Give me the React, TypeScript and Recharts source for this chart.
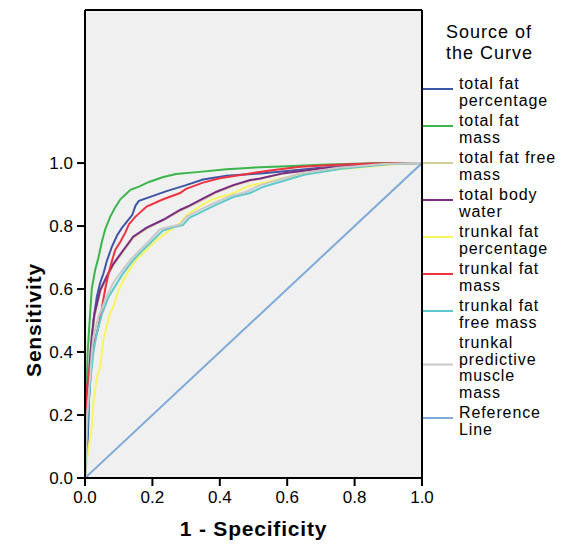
import React from "react";
import {
  LineChart,
  Line,
  XAxis,
  YAxis,
  CartesianGrid,
  ReferenceLine,
  Customized,
} from "recharts";

type Pt = { x: number; y: number };
const pts = (a: number[][]): Pt[] => a.map(([x, y]) => ({ x, y }));

// ROC curves (1 - specificity, sensitivity)
const totalFatPercentage = pts([
  [0, 0], [0.003, 0.05], [0.008, 0.12], [0.012, 0.25], [0.015, 0.3], [0.018, 0.35],
  [0.02, 0.42], [0.025, 0.5], [0.035, 0.575], [0.045, 0.62], [0.055, 0.65], [0.065, 0.69],
  [0.08, 0.735], [0.095, 0.77], [0.11, 0.795], [0.125, 0.815], [0.14, 0.835], [0.15, 0.865],
  [0.16, 0.88], [0.2, 0.895], [0.24, 0.91], [0.3, 0.93], [0.35, 0.948], [0.42, 0.96],
  [0.52, 0.967], [0.6, 0.975], [0.7, 0.985], [0.8, 0.993], [0.9, 0.998], [1, 1],
]);
const totalFatMass = pts([
  [0, 0], [0.003, 0.12], [0.005, 0.3], [0.008, 0.4], [0.012, 0.47], [0.02, 0.6],
  [0.03, 0.66], [0.04, 0.7], [0.05, 0.75], [0.06, 0.79], [0.075, 0.83], [0.09, 0.86],
  [0.105, 0.885], [0.12, 0.9], [0.135, 0.915], [0.16, 0.925], [0.19, 0.94], [0.23, 0.955],
  [0.27, 0.965], [0.34, 0.972], [0.42, 0.98], [0.52, 0.987], [0.6, 0.99], [0.7, 0.995],
  [0.8, 0.998], [0.87, 1], [1, 1],
]);
const totalFatFreeMass = pts([
  [0, 0], [0.003, 0.1], [0.006, 0.24], [0.01, 0.3], [0.015, 0.37], [0.02, 0.44],
  [0.028, 0.51], [0.045, 0.59], [0.064, 0.635], [0.084, 0.675], [0.114, 0.72],
  [0.143, 0.762], [0.183, 0.792], [0.232, 0.818], [0.282, 0.848], [0.31, 0.862],
  [0.351, 0.884], [0.39, 0.906], [0.44, 0.928], [0.49, 0.944], [0.52, 0.95],
  [0.59, 0.967], [0.7, 0.982], [0.8, 0.992], [0.9, 0.998], [1, 1],
]);
const totalBodyWater = pts([
  [0, 0], [0.003, 0.1], [0.006, 0.25], [0.01, 0.3], [0.015, 0.38], [0.02, 0.45],
  [0.028, 0.52], [0.045, 0.597], [0.064, 0.639], [0.084, 0.68], [0.114, 0.724],
  [0.143, 0.766], [0.183, 0.795], [0.232, 0.82], [0.282, 0.851], [0.31, 0.865],
  [0.351, 0.888], [0.39, 0.909], [0.44, 0.93], [0.49, 0.946], [0.52, 0.951],
  [0.59, 0.968], [0.7, 0.983], [0.8, 0.992], [0.9, 0.998], [1, 1],
]);
const trunkalFatPercentage = pts([
  [0, 0], [0.005, 0.04], [0.01, 0.1], [0.013, 0.11], [0.02, 0.163], [0.025, 0.237],
  [0.035, 0.32], [0.045, 0.353], [0.054, 0.438], [0.064, 0.48], [0.074, 0.523],
  [0.084, 0.544], [0.09, 0.565], [0.104, 0.607], [0.12, 0.64], [0.134, 0.665],
  [0.153, 0.695], [0.183, 0.725], [0.213, 0.756], [0.252, 0.787], [0.282, 0.81],
  [0.302, 0.835], [0.351, 0.87], [0.381, 0.886], [0.44, 0.904], [0.48, 0.925],
  [0.58, 0.95], [0.7, 0.975], [0.837, 0.988], [0.92, 0.996], [1, 1],
]);
const trunkalFatMass = pts([
  [0, 0], [0.002, 0.1], [0.004, 0.27], [0.008, 0.31], [0.015, 0.35], [0.022, 0.4],
  [0.03, 0.44], [0.04, 0.48], [0.05, 0.54], [0.06, 0.6], [0.07, 0.65], [0.08, 0.69],
  [0.09, 0.725], [0.105, 0.75], [0.12, 0.78], [0.13, 0.805], [0.15, 0.83], [0.183, 0.862],
  [0.232, 0.885], [0.282, 0.905], [0.3, 0.918], [0.35, 0.938], [0.4, 0.952],
  [0.49, 0.967], [0.56, 0.978], [0.64, 0.988], [0.75, 0.995], [0.85, 0.999], [1, 1],
]);
const trunkalFatFreeMass = pts([
  [0, 0], [0.004, 0.08], [0.008, 0.2], [0.015, 0.3], [0.025, 0.4], [0.035, 0.46],
  [0.05, 0.52], [0.07, 0.575], [0.09, 0.61], [0.11, 0.645], [0.14, 0.688],
  [0.17, 0.722], [0.19, 0.742], [0.23, 0.785], [0.26, 0.796], [0.29, 0.803],
  [0.31, 0.826], [0.34, 0.842], [0.39, 0.868], [0.44, 0.892], [0.49, 0.905],
  [0.53, 0.925], [0.65, 0.963], [0.76, 0.982], [0.9, 0.996], [1, 1],
]);
const trunkalPredictiveMuscleMass = pts([
  [0, 0], [0.003, 0.1], [0.006, 0.2], [0.012, 0.28], [0.016, 0.33], [0.02, 0.4],
  [0.025, 0.449], [0.04, 0.512], [0.064, 0.576], [0.084, 0.62], [0.104, 0.65],
  [0.134, 0.692], [0.163, 0.724], [0.183, 0.745], [0.223, 0.79], [0.252, 0.798],
  [0.282, 0.805], [0.302, 0.83], [0.33, 0.846], [0.381, 0.872], [0.43, 0.895],
  [0.48, 0.909], [0.52, 0.93], [0.638, 0.967], [0.75, 0.985], [0.885, 0.997], [1, 1],
]);
const referenceLine = pts([[0, 0], [1, 1]]);

const xTicks = [0, 0.2, 0.4, 0.6, 0.8, 1.0];
const yTicks = [0, 0.2, 0.4, 0.6, 0.8, 1.0];

const series = [
  { name: "total fat percentage", lines: ["total fat", "percentage"], data: totalFatPercentage, color: "#3d56a6" },
  { name: "total fat mass", lines: ["total fat", "mass"], data: totalFatMass, color: "#3ab54a" },
  { name: "total fat free mass", lines: ["total fat free", "mass"], data: totalFatFreeMass, color: "#d4cf9b" },
  { name: "total body water", lines: ["total body", "water"], data: totalBodyWater, color: "#7b2a84" },
  { name: "trunkal fat percentage", lines: ["trunkal fat", "percentage"], data: trunkalFatPercentage, color: "#f8f65c" },
  { name: "trunkal fat mass", lines: ["trunkal fat", "mass"], data: trunkalFatMass, color: "#ee3340" },
  { name: "trunkal fat free mass", lines: ["trunkal fat", "free mass"], data: trunkalFatFreeMass, color: "#5ec8cb" },
  { name: "trunkal predictive muscle mass", lines: ["trunkal", "predictive", "muscle", "mass"], data: trunkalPredictiveMuscleMass, color: "#c9c9c9" },
  { name: "Reference Line", lines: ["Reference", "Line"], data: referenceLine, color: "#7eaad8" },
];

const FONT = "'Liberation Sans', Arial, sans-serif";
const Y_MAX = 1.486;

const Overlay = () => {
  const lineH = 16.5;
  let cy = 89 - (2 * lineH + 4) / 2;
  const items = series.map((s) => {
    const h = s.lines.length * lineH + 4;
    const center = cy + h / 2;
    cy += h;
    return { s, center };
  });
  return (
    <g fontFamily={FONT}>
      <text
        x={33}
        y={320}
        transform="rotate(-90 33 320)"
        textAnchor="middle"
        dominantBaseline="central"
        fontSize={21}
        fontWeight="bold"
        letterSpacing={0.8}
        fill="#000"
      >
        Sensitivity
      </text>
      <text
        x={253.5}
        y={536}
        textAnchor="middle"
        fontSize={21}
        fontWeight="bold"
        letterSpacing={0.8}
        fill="#000"
      >
        1 - Specificity
      </text>
      <text x={446} y={38} fontSize={18} letterSpacing={1} fill="#000">
        Source of
      </text>
      <text x={446} y={59} fontSize={18} letterSpacing={1} fill="#000">
        the Curve
      </text>
      {items.map(({ s, center }) => (
        <g key={s.name}>
          <line x1={423} x2={453} y1={center} y2={center} stroke={s.color} strokeWidth={2} />
          {s.lines.map((t, i) => (
            <text
              key={i}
              x={459}
              y={center + 3 - ((s.lines.length - 1) * lineH) / 2 + i * lineH + 5.5}
              fontSize={16}
              letterSpacing={0.9}
              fill="#000"
            >
              {t}
            </text>
          ))}
        </g>
      ))}
    </g>
  );
};

export default function App() {
  return (
    <div style={{ position: "absolute", left: 0, top: 0, width: 566, height: 545, background: "#fff" }}>
      <LineChart
        width={566}
        height={545}
        margin={{ top: 10, right: 144, bottom: 37, left: 25 }}
      >
        <CartesianGrid horizontal={false} vertical={false} fill="#f0f0f0" />
        <XAxis
          type="number"
          dataKey="x"
          domain={[0, 1]}
          ticks={xTicks}
          tickFormatter={(v: number) => v.toFixed(1)}
          height={30}
          tickSize={8}
          tickMargin={5}
          axisLine={{ stroke: "#000", strokeWidth: 2 }}
          tickLine={{ stroke: "#000", strokeWidth: 2 }}
          tick={{ fill: "#000", fontSize: 17, fontFamily: FONT }}
          allowDataOverflow
        />
        <YAxis
          type="number"
          dataKey="y"
          domain={[0, Y_MAX]}
          ticks={yTicks}
          tickFormatter={(v: number) => v.toFixed(1)}
          width={60}
          tickSize={8}
          tickMargin={4}
          axisLine={{ stroke: "#000", strokeWidth: 2 }}
          tickLine={{ stroke: "#000", strokeWidth: 2 }}
          tick={{ fill: "#000", fontSize: 17, fontFamily: FONT }}
          allowDataOverflow
        />
        {series.map((s) => (
          <Line
            key={s.name}
            data={s.data}
            dataKey="y"
            name={s.name}
            type="linear"
            stroke={s.color}
            strokeWidth={2}
            dot={false}
            activeDot={false}
            isAnimationActive={false}
          />
        ))}
        <ReferenceLine y={Y_MAX} stroke="#000" strokeWidth={2} />
        <ReferenceLine x={1} stroke="#000" strokeWidth={2} />
        <Customized component={<Overlay />} />
      </LineChart>
    </div>
  );
}
